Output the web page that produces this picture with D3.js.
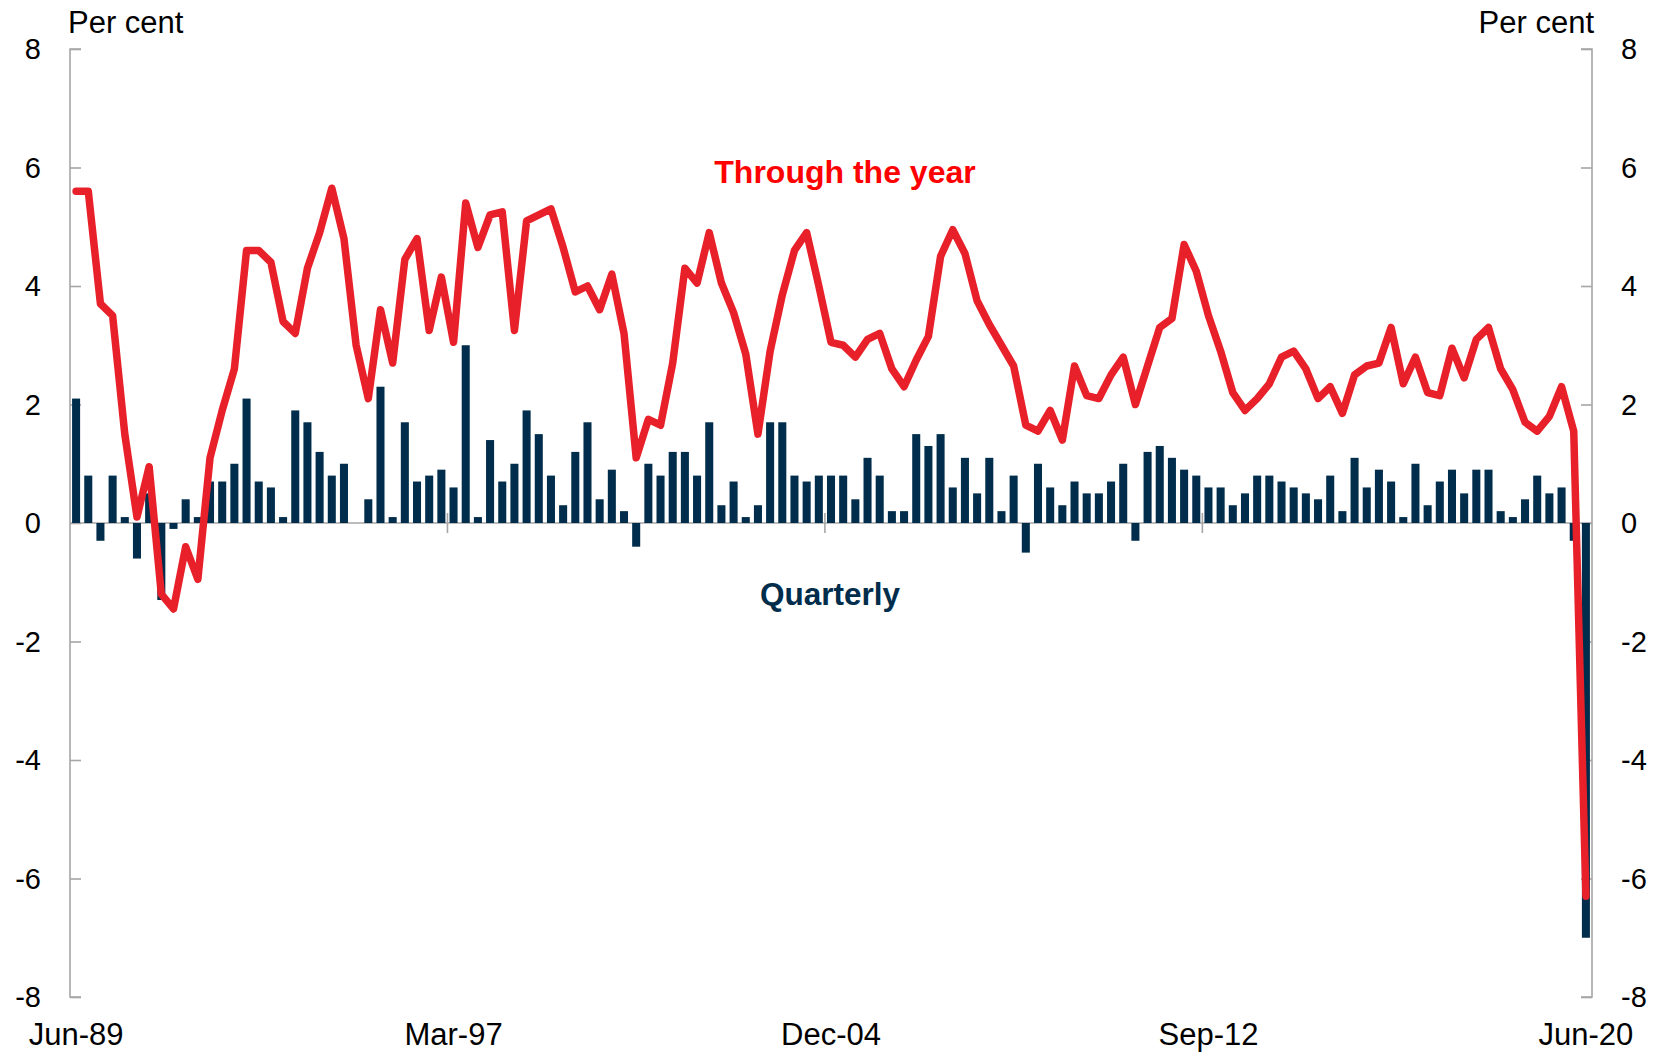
<!DOCTYPE html>
<html>
<head>
<meta charset="utf-8">
<script src="https://cdn.jsdelivr.net/npm/d3@7"></script>
<style>
    body { margin: 0; background: #ffffff; }
    text { font-family: "Liberation Sans", Arial, sans-serif; }
</style>
</head>
<body>
<div id="chart"></div>
<script>
// Quarterly growth, per cent (Jun-89 .. Jun-20)
var quarterly = [
    2.1, 0.8, -0.3, 0.8, 0.1, -0.6, 0.5, -1.3, -0.1, 0.4,
    0.1, 0.7, 0.7, 1.0, 2.1, 0.7, 0.6, 0.1, 1.9, 1.7,
    1.2, 0.8, 1.0, 0.0, 0.4, 2.3, 0.1, 1.7, 0.7, 0.8,
    0.9, 0.6, 3.0, 0.1, 1.4, 0.7, 1.0, 1.9, 1.5, 0.8,
    0.3, 1.2, 1.7, 0.4, 0.9, 0.2, -0.4, 1.0, 0.8, 1.2,
    1.2, 0.8, 1.7, 0.3, 0.7, 0.1, 0.3, 1.7, 1.7, 0.8,
    0.7, 0.8, 0.8, 0.8, 0.4, 1.1, 0.8, 0.2, 0.2, 1.5,
    1.3, 1.5, 0.6, 1.1, 0.5, 1.1, 0.2, 0.8, -0.5, 1.0,
    0.6, 0.3, 0.7, 0.5, 0.5, 0.7, 1.0, -0.3, 1.2, 1.3,
    1.1, 0.9, 0.8, 0.6, 0.6, 0.3, 0.5, 0.8, 0.8, 0.7,
    0.6, 0.5, 0.4, 0.8, 0.2, 1.1, 0.6, 0.9, 0.7, 0.1,
    1.0, 0.3, 0.7, 0.9, 0.5, 0.9, 0.9, 0.2, 0.1, 0.4,
    0.8, 0.5, 0.6, -0.3, -7.0
];

// Through the year growth, per cent
var yearEnded = [
    5.6, 5.6, 3.7, 3.5, 1.5, 0.1, 0.95, -1.2, -1.45, -0.4,
    -0.95, 1.1, 1.9, 2.6, 4.6, 4.6, 4.4, 3.4, 3.2, 4.3,
    4.9, 5.65, 4.8, 3.0, 2.1, 3.6, 2.7, 4.45, 4.8, 3.25,
    4.15, 3.05, 5.4, 4.65, 5.2, 5.25, 3.25, 5.1, 5.2, 5.3,
    4.65, 3.9, 4.0, 3.6, 4.2, 3.2, 1.1, 1.75, 1.65, 2.7,
    4.3, 4.05, 4.9, 4.05, 3.55, 2.85, 1.5, 2.9, 3.85, 4.6,
    4.9, 4.0, 3.05, 3.0, 2.8, 3.1, 3.2, 2.6, 2.3, 2.75,
    3.15, 4.5, 4.95, 4.55, 3.75, 3.35, 3.0, 2.65, 1.65, 1.55,
    1.9, 1.4, 2.65, 2.15, 2.1, 2.5, 2.8, 2.0, 2.65, 3.3,
    3.45, 4.7, 4.25, 3.5, 2.9, 2.2, 1.9, 2.1, 2.35, 2.8,
    2.9, 2.6, 2.1, 2.3, 1.85, 2.5, 2.65, 2.7, 3.3, 2.35,
    2.8, 2.2, 2.15, 2.95, 2.45, 3.1, 3.3, 2.6, 2.25, 1.7,
    1.55, 1.8, 2.3, 1.55, -6.3
];

// Axis labels
var yTicks = [-8, -6, -4, -2, 0, 2, 4, 6, 8];
var xTickLabels = ["Jun-89", "Mar-97", "Dec-04", "Sep-12", "Jun-20"];

// Quarter categories, starting June 1989
var fmt = d3.timeFormat("%b-%y");
var quarters = quarterly.map(function (d, i) {
    return fmt(new Date(1989, 5 + 3 * i, 1));
});

var W = 1661, H = 1053;
var plotLeft = 70, plotRight = 1592, plotTop = 49, plotBottom = 997;
var axisGrey = "#a6a6a6";
var navy = "#002d4b";
var red = "#e8202a";

var svg = d3.select("#chart")
    .append("svg")
    .attr("width", W)
    .attr("height", H);

// Scales
var x = d3.scaleBand()
    .domain(quarters)
    .range([plotLeft, plotRight])
    .paddingInner(0.34)
    .paddingOuter(0.17);
var y = d3.scaleLinear().domain([-8, 8]).range([plotBottom, plotTop]);
var step = x.step();

// Left and right axes (ticks point inward)
var yLeft = d3.axisRight(y).tickValues(yTicks).tickSize(11).tickFormat("");
var yRight = d3.axisLeft(y).tickValues(yTicks).tickSize(11).tickFormat("");

svg.append("g")
    .attr("transform", "translate(" + plotLeft + ",0)")
    .call(yLeft)
    .call(function (g) {
        g.select(".domain").attr("d", "M11," + plotTop + "H0V" + plotBottom + "H11");
    });
svg.append("g")
    .attr("transform", "translate(" + plotRight + ",0)")
    .call(yRight)
    .call(function (g) {
        g.select(".domain").attr("d", "M-11," + plotTop + "H0V" + plotBottom + "H-11");
    });
svg.selectAll(".domain, .tick line")
    .attr("stroke", axisGrey)
    .attr("stroke-width", 1.6);

// Tick labels on both sides
svg.append("g").selectAll("text")
    .data(yTicks)
    .enter().append("text")
    .attr("x", 41)
    .attr("y", function (d) { return y(d); })
    .attr("dy", "0.36em")
    .attr("text-anchor", "end")
    .attr("font-size", 29)
    .text(function (d) { return d; });
svg.append("g").selectAll("text")
    .data(yTicks)
    .enter().append("text")
    .attr("x", 1621)
    .attr("y", function (d) { return y(d); })
    .attr("dy", "0.36em")
    .attr("text-anchor", "start")
    .attr("font-size", 29)
    .text(function (d) { return d; });

// Unit labels
svg.append("text")
    .attr("x", 68).attr("y", 33)
    .attr("font-size", 31)
    .text("Per cent");
svg.append("text")
    .attr("x", 1594).attr("y", 33)
    .attr("text-anchor", "end")
    .attr("font-size", 31)
    .text("Per cent");

// Zero line with date ticks crossing it
svg.append("line")
    .attr("x1", plotLeft).attr("x2", plotRight)
    .attr("y1", y(0)).attr("y2", y(0))
    .attr("stroke", axisGrey)
    .attr("stroke-width", 1.6);
svg.append("g").selectAll("line")
    .data(xTickLabels.slice(1, 4))
    .enter().append("line")
    .attr("x1", function (d) { return x(d) - step * 0.17; })
    .attr("x2", function (d) { return x(d) - step * 0.17; })
    .attr("y1", y(0) - 10)
    .attr("y2", y(0) + 10)
    .attr("stroke", axisGrey)
    .attr("stroke-width", 1.6);

// Date labels
svg.append("g").selectAll("text")
    .data(xTickLabels)
    .enter().append("text")
    .attr("x", function (d) { return x(d) + x.bandwidth() / 2; })
    .attr("y", 1045)
    .attr("text-anchor", "middle")
    .attr("font-size", 31)
    .text(function (d) { return d; });

// Quarterly bars
svg.append("g").selectAll("rect")
    .data(quarterly)
    .enter().append("rect")
    .attr("x", function (d, i) { return x(quarters[i]); })
    .attr("width", x.bandwidth())
    .attr("y", function (d) { return y(Math.max(0, d)); })
    .attr("height", function (d) { return Math.abs(y(d) - y(0)); })
    .attr("fill", navy);

// Through the year line
var line = d3.line()
    .x(function (d, i) { return x(quarters[i]) + x.bandwidth() / 2; })
    .y(function (d) { return y(d); });

svg.append("path")
    .datum(yearEnded)
    .attr("d", line)
    .attr("fill", "none")
    .attr("stroke", red)
    .attr("stroke-width", 7.5)
    .attr("stroke-linejoin", "round")
    .attr("stroke-linecap", "round");

// Series labels
svg.append("text")
    .attr("x", 845).attr("y", 183)
    .attr("text-anchor", "middle")
    .attr("font-size", 32)
    .attr("font-weight", "bold")
    .attr("fill", "#ff0000")
    .text("Through the year");
svg.append("text")
    .attr("x", 830).attr("y", 605)
    .attr("text-anchor", "middle")
    .attr("font-size", 31.5)
    .attr("font-weight", "bold")
    .attr("fill", navy)
    .text("Quarterly");
</script>
</body>
</html>
